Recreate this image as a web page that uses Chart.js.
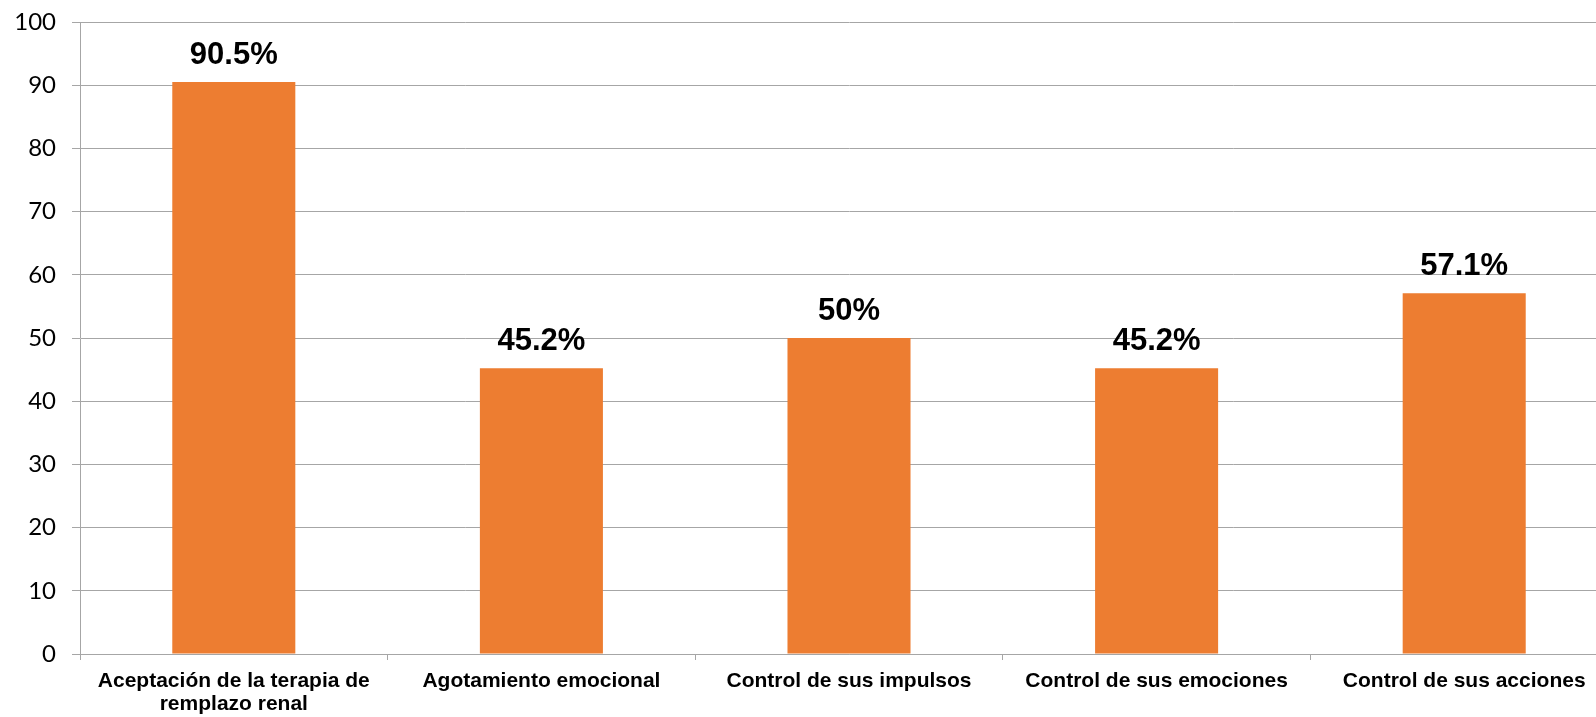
<!DOCTYPE html>
<html>
<head>
<meta charset="utf-8">
<script src="https://cdn.jsdelivr.net/npm/chart.js@4"></script>
<style>
    html,body{margin:0;padding:0;background:#fff;overflow:hidden;}
</style>
</head>
<body>
<canvas id="chart" width="1620" height="717"></canvas>
<script>

let
    categories=[
        ["Aceptación de la terapia de","remplazo renal"],
        "Agotamiento emocional",
        "Control de sus impulsos",
        "Control de sus emociones",
        "Control de sus acciones"
    ],
    values=[90.5,45.2,50,45.2,57.1],
    yTicks=[0,10,20,30,40,50,60,70,80,90,100];

const BAR_COLOR="#ED7D31";
const GRID_COLOR="#a6a6a6";

// writes the value above each bar
let valueLabels={
    id:"valueLabels",
    afterDatasetsDraw(chart) {
        let ctx=chart.ctx;
        let meta=chart.getDatasetMeta(0);
        ctx.save();
        ctx.font="bold 31px 'Liberation Sans', Arial, sans-serif";
        ctx.fillStyle="#000";
        ctx.textAlign="center";
        ctx.textBaseline="alphabetic";
        meta.data.forEach((bar,i)=>{
            ctx.fillText(values[i]+"%",bar.x,bar.y-18);
        });
        ctx.restore();
    }
};

new Chart(
    document.getElementById("chart"),
    {
        type:"bar",
        data:{
            labels:categories,
            datasets:[{
                data:values,
                backgroundColor:BAR_COLOR,
                borderWidth:0,
                categoryPercentage:1,
                barPercentage:0.4
            }]
        },
        options:{
            responsive:false,
            animation:false,
            layout:{padding:{top:0,right:2,bottom:0,left:0}},
            plugins:{
                legend:{display:false},
                tooltip:{enabled:false}
            },
            scales:{
                x:{
                    offset:true,
                    grid:{
                        offset:true,
                        drawOnChartArea:false,
                        drawTicks:true,
                        tickLength:6,
                        color:GRID_COLOR
                    },
                    border:{color:GRID_COLOR},
                    ticks:{
                        color:"#000",
                        padding:10,
                        maxRotation:0,
                        autoSkip:false,
                        font:{family:"'Liberation Sans', Arial, sans-serif",size:21,weight:"bold",lineHeight:1.08}
                    },
                    afterFit(s) { s.height=63; }
                },
                y:{
                    min:0,
                    max:100,
                    afterBuildTicks(s) { s.ticks=yTicks.map(v=>({value:v})); },
                    grid:{
                        color:GRID_COLOR,
                        tickLength:8
                    },
                    border:{color:GRID_COLOR},
                    ticks:{
                        color:"#000",
                        padding:16,
                        font:{family:"Lato, sans-serif",size:24}
                    },
                    afterFit(s) {
                        s.width=80;
                        s.paddingTop=22;
                        s.paddingBottom=0;
                    }
                }
            }
        },
        plugins:[valueLabels]
    }
);
</script>
</body>
</html>
